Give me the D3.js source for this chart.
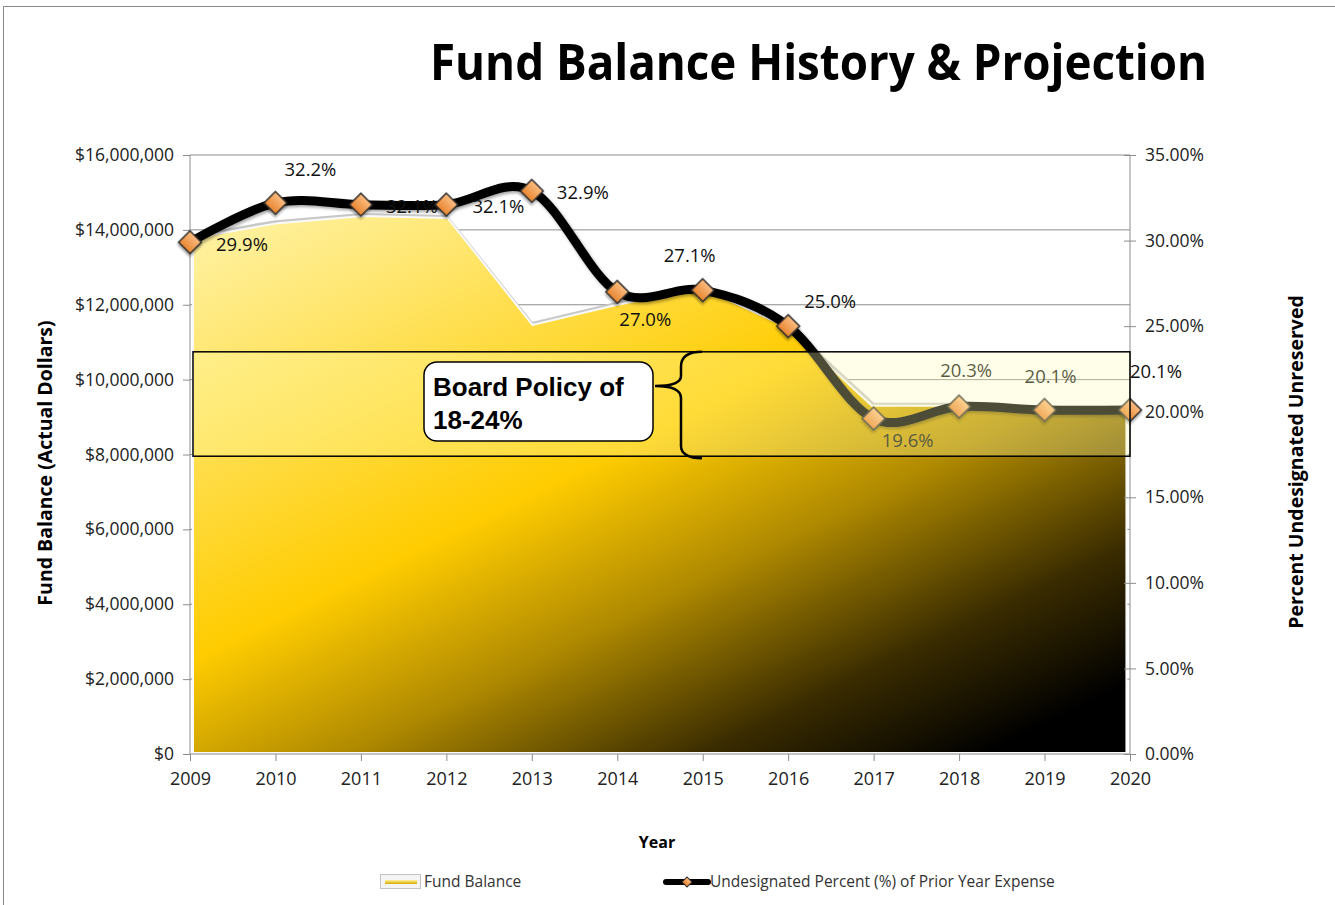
<!DOCTYPE html>
<html>
<head>
<meta charset="utf-8">
<script src="https://cdn.jsdelivr.net/npm/d3@7"></script>
<style>
  body { margin: 0; background: #fff; }
  svg { display: block; font-family: "Open Sans", sans-serif; }
  .tick text { fill: #222; }
</style>
</head>
<body>
<script>
// data
var years = [2009, 2010, 2011, 2012, 2013, 2014, 2015, 2016, 2017, 2018, 2019, 2020];
var fundBalance = [13.78e6, 14.18e6, 14.37e6, 14.32e6, 11.46e6, 12.0e6, 12.45e6, 11.4e6, 9.3e6, 9.3e6, 9.2e6, 9.2e6];
var percentUndesignated = [29.9, 32.2, 32.1, 32.1, 32.9, 27.0, 27.1, 25.0, 19.6, 20.3, 20.1, 20.1];
var leftTicks = [0, 2e6, 4e6, 6e6, 8e6, 10e6, 12e6, 14e6, 16e6];
var rightTicks = [0, 5, 10, 15, 20, 25, 30, 35];
var policyBand = [17.4, 23.5];   // the drawn band, in percent

// where each percent label sits relative to its marker (px)
var labelOffsets = [[52, 2], [35, -34], [51, 2], [52, 2], [51, 1], [28, 27],
                    [-13, -35], [42, -25], [34, 22], [7, -36], [6, -34], [26, -39]];

var svgWidth = 1335;
var svgHeight = 905;
var margin = { top: 155, right: 205, bottom: 151, left: 190 };
var width = svgWidth - margin.left - margin.right;
var height = svgHeight - margin.top - margin.bottom;

var svg = d3.select("body").append("svg")
    .attr("width", svgWidth)
    .attr("height", svgHeight);

var defs = svg.append("defs");

// gold fill of the area, light top-left to black bottom-right
var areaGrad = defs.append("linearGradient")
    .attr("id", "areaGrad")
    .attr("x1", 0).attr("y1", 0).attr("x2", 0.85).attr("y2", 1);
[[0, "#fff3a8"], [0.15, "#ffe877"], [0.48, "#ffcc00"], [0.66, "#b08a00"], [0.85, "#3a2c00"], [1, "#000000"]]
    .forEach(function (s) {
        areaGrad.append("stop").attr("offset", s[0]).attr("stop-color", s[1]);
    });

var diamondGrad = defs.append("linearGradient")
    .attr("id", "diamondGrad")
    .attr("x1", 0).attr("y1", 0).attr("x2", 0).attr("y2", 1);
diamondGrad.append("stop").attr("offset", 0).attr("stop-color", "#fbbd82");
diamondGrad.append("stop").attr("offset", 1).attr("stop-color", "#e8852f");

var legendGrad = defs.append("linearGradient")
    .attr("id", "legendGrad")
    .attr("x1", 0).attr("y1", 0).attr("x2", 0).attr("y2", 1);
legendGrad.append("stop").attr("offset", 0).attr("stop-color", "#fff3a0");
legendGrad.append("stop").attr("offset", 1).attr("stop-color", "#d8a800");

var shadow = defs.append("filter").attr("id", "shadow")
    .attr("x", "-20%").attr("y", "-20%").attr("width", "140%").attr("height", "140%");
shadow.append("feDropShadow")
    .attr("dx", 1.5).attr("dy", 2).attr("stdDeviation", 1.5)
    .attr("flood-color", "#000").attr("flood-opacity", 0.35);

// outer chart border
svg.append("rect")
    .attr("x", 3.5).attr("y", 6.5)
    .attr("width", svgWidth + 20).attr("height", svgHeight + 20)
    .attr("fill", "none").attr("stroke", "#8a8a8a");

// title
svg.append("text")
    .attr("x", 430).attr("y", 80)
    .attr("textLength", 777)
    .attr("lengthAdjust", "spacingAndGlyphs")
    .attr("font-size", 51)
    .attr("font-weight", "bold")
    .attr("fill", "#000")
    .text("Fund Balance History & Projection");

var chartGroup = svg.append("g")
    .attr("transform", `translate(${margin.left}, ${margin.top})`);

var xScale = d3.scaleLinear().domain([2009, 2020]).range([0, width]);
var yLeft = d3.scaleLinear().domain([0, 16e6]).range([height, 0]);
var yRight = d3.scaleLinear().domain([0, 35]).range([height, 0]);

// gridlines
chartGroup.append("g")
    .selectAll("line")
    .data(leftTicks.filter(d => d > 0))
    .enter().append("line")
    .attr("x1", 0).attr("x2", width)
    .attr("y1", d => yLeft(d)).attr("y2", d => yLeft(d))
    .attr("stroke", "#8c8c8c").attr("stroke-width", 1);

// plot right edge
chartGroup.append("line")
    .attr("x1", width).attr("x2", width)
    .attr("y1", 0).attr("y2", height)
    .attr("stroke", "#8c8c8c");

// fund balance area
var area = d3.area()
    .x((d, i) => xScale(years[i]))
    .y0(height - 1)
    .y1(d => yLeft(d));

var topLine = d3.line()
    .x((d, i) => xScale(years[i]))
    .y(d => yLeft(d));

chartGroup.append("path")
    .datum(fundBalance)
    .attr("d", topLine)
    .attr("transform", "translate(0,-1.5)")
    .attr("fill", "none")
    .attr("stroke", "#c8c8c8")
    .attr("stroke-width", 3);

chartGroup.append("path")
    .datum(fundBalance)
    .attr("d", area)
    .attr("transform", "translate(3,0) scale(0.993,1)")
    .attr("fill", "url(#areaGrad)")
    .attr("stroke", "#fafafa")
    .attr("stroke-width", 2);

// axes
var leftAxis = d3.axisLeft(yLeft)
    .tickValues(leftTicks)
    .tickFormat(d => "$" + d3.format(",")(d))
    .tickSize(7)
    .tickPadding(9);

var rightAxis = d3.axisRight(yRight)
    .tickValues(rightTicks)
    .tickFormat(d => d.toFixed(2) + "%")
    .tickSize(6)
    .tickPadding(9);

var bottomAxis = d3.axisBottom(xScale)
    .tickValues(years)
    .tickFormat(d3.format("d"))
    .tickSize(7)
    .tickPadding(11);

var gLeft = chartGroup.append("g").call(leftAxis);
var gRight = chartGroup.append("g").attr("transform", `translate(${width}, 0)`).call(rightAxis);
var gBottom = chartGroup.append("g").attr("transform", `translate(0, ${height})`).call(bottomAxis);

[gLeft, gRight, gBottom].forEach(function (g) {
    g.select(".domain").remove();
    g.selectAll(".tick line").attr("stroke", "#8c8c8c");
    g.selectAll("text").attr("font-family", "Open Sans").attr("fill", "#222");
});
gLeft.selectAll("text").attr("font-size", 17.5);
gRight.selectAll("text").attr("font-size", 17.5);
gBottom.selectAll("text").attr("font-size", 18);
gRight.selectAll(".tick line").attr("x1", -6);

chartGroup.append("line")
    .attr("x1", 0).attr("x2", 0).attr("y1", 0).attr("y2", height)
    .attr("stroke", "#8c8c8c");
chartGroup.append("line")
    .attr("x1", 0).attr("x2", width).attr("y1", height).attr("y2", height)
    .attr("stroke", "#8c8c8c");

// percent line
var pctLine = d3.line()
    .x((d, i) => xScale(years[i]))
    .y(d => yRight(d))
    .curve(d3.curveCatmullRom.alpha(0));

chartGroup.append("path")
    .datum(percentUndesignated)
    .attr("d", pctLine)
    .attr("fill", "none")
    .attr("stroke", "#000")
    .attr("stroke-width", 9)
    .attr("stroke-linejoin", "round")
    .attr("filter", "url(#shadow)");

// diamond markers
var diamond = d3.symbol().type(d3.symbolSquare).size(260);
chartGroup.selectAll(".marker")
    .data(percentUndesignated)
    .enter().append("path")
    .attr("class", "marker")
    .attr("d", diamond)
    .attr("transform", (d, i) => `translate(${xScale(years[i])}, ${yRight(d)}) rotate(45)`)
    .attr("fill", "url(#diamondGrad)")
    .attr("stroke", "#2a2a2a")
    .attr("stroke-width", 1.5)
    .attr("filter", "url(#shadow)");

// data labels
chartGroup.selectAll(".pctLabel")
    .data(percentUndesignated)
    .enter().append("text")
    .attr("class", "pctLabel")
    .attr("x", (d, i) => xScale(years[i]) + labelOffsets[i][0])
    .attr("y", (d, i) => yRight(d) + labelOffsets[i][1])
    .attr("dy", "0.36em")
    .attr("text-anchor", "middle")
    .attr("font-size", 18.5)
    .attr("fill", "#111")
    .text(d => d.toFixed(1) + "%");

// board policy band (translucent)
chartGroup.append("rect")
    .attr("x", 3)
    .attr("y", yRight(policyBand[1]))
    .attr("width", width - 3)
    .attr("height", yRight(policyBand[0]) - yRight(policyBand[1]))
    .attr("fill", "rgb(255,255,183)")
    .attr("fill-opacity", 0.3)
    .attr("stroke", "#000")
    .attr("stroke-width", 1.5);

// brace and callout
var bTop = yRight(policyBand[1]) + margin.top;
var bBot = yRight(policyBand[0]) + margin.top + 2;
var bx = 681, tipX = 655, tipY = 386;
svg.append("path")
    .attr("d", `M702,${bTop} C688,${bTop} ${bx},${bTop + 5} ${bx},${bTop + 15} L${bx},${tipY - 10} ` +
        `C${bx},${tipY - 3} ${bx - 9},${tipY} ${tipX},${tipY} C${bx - 9},${tipY} ${bx},${tipY + 4} ${bx},${tipY + 12} ` +
        `L${bx},${bBot - 12} C${bx},${bBot - 5} 688,${bBot} 702,${bBot}`)
    .attr("fill", "none")
    .attr("stroke", "#000")
    .attr("stroke-width", 2.5);

svg.append("rect")
    .attr("x", 424).attr("y", 362)
    .attr("width", 229).attr("height", 79)
    .attr("rx", 13)
    .attr("fill", "#fff")
    .attr("stroke", "#000")
    .attr("stroke-width", 1.5);

var callout = svg.append("text")
    .attr("font-family", "Liberation Sans, Arial, sans-serif")
    .attr("font-weight", "bold")
    .attr("font-size", 26)
    .attr("fill", "#000");
callout.append("tspan").attr("x", 433).attr("y", 396).text("Board Policy of");
callout.append("tspan").attr("x", 433).attr("y", 429).text("18-24%");

// axis titles
svg.append("text")
    .attr("transform", "translate(52, 463) rotate(-90)")
    .attr("text-anchor", "middle")
    .attr("font-size", 19.5)
    .attr("font-weight", "bold")
    .text("Fund Balance (Actual Dollars)");

svg.append("text")
    .attr("transform", "translate(1303, 462) rotate(-90)")
    .attr("text-anchor", "middle")
    .attr("font-size", 19.5)
    .attr("font-weight", "bold")
    .text("Percent Undesignated Unreserved");

svg.append("text")
    .attr("x", 657).attr("y", 848)
    .attr("text-anchor", "middle")
    .attr("font-size", 16)
    .attr("font-weight", "bold")
    .text("Year");

// legend
var legend = svg.append("g");
legend.append("rect")
    .attr("x", 380.5).attr("y", 874.5).attr("width", 40).attr("height", 14)
    .attr("fill", "#f4f4f4").attr("stroke", "#c4c4c4");
legend.append("rect")
    .attr("x", 385).attr("y", 880).attr("width", 32).attr("height", 4)
    .attr("fill", "url(#legendGrad)");
legend.append("text")
    .attr("x", 424).attr("y", 887)
    .attr("font-size", 15.5).attr("fill", "#333")
    .text("Fund Balance");

legend.append("line")
    .attr("x1", 666).attr("x2", 708).attr("y1", 882).attr("y2", 882)
    .attr("stroke", "#000").attr("stroke-width", 6).attr("stroke-linecap", "round");
legend.append("path")
    .attr("d", d3.symbol().type(d3.symbolSquare).size(50))
    .attr("transform", "translate(687, 882) rotate(45)")
    .attr("fill", "url(#diamondGrad)")
    .attr("stroke", "#2a2a2a").attr("stroke-width", 1);
legend.append("text")
    .attr("x", 710).attr("y", 887)
    .attr("font-size", 15.5).attr("fill", "#333")
    .text("Undesignated Percent (%) of Prior Year Expense");
</script>
</body>
</html>
